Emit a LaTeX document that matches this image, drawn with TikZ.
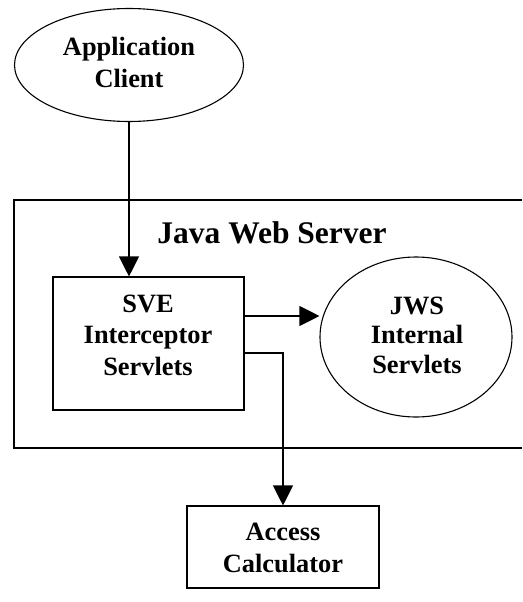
\documentclass[tikz,border=0pt]{standalone}
\usepackage{fontspec}
\setmainfont{Liberation Serif}
\usetikzlibrary{arrows.meta,shapes.geometric}
\tikzset{
  shapeline/.style={draw=black, line width=1.1pt},
  boxnode/.style={shapeline, rectangle, inner sep=0pt},
  ovalnode/.style={shapeline, ellipse, inner sep=0pt},
  lbl/.style={align=center, anchor=base, inner sep=0pt,
    font=\fontsize{26.4pt}{31.5pt}\selectfont\bfseries},
  title/.style={anchor=base, inner sep=0pt,
    font=\fontsize{31.5pt}{36pt}\selectfont\bfseries},
  arr/.style={draw=black, line width=1.1pt, -{Triangle[length=20pt,width=20pt]}},
  conn/.style={draw=black, line width=1.1pt}
}
\begin{document}
\begin{tikzpicture}[x=1pt,y=-1pt]
\useasboundingbox (0,0) rectangle (522,602);
% Application Client
\node[ovalnode, minimum width=229pt, minimum height=113pt] (app) at (129,65) {};
\node[lbl, font=\fontsize{26.4pt}{32pt}\selectfont\bfseries] (applbl) at (129,87) {Application\\Client};
% Java Web Server frame (open on the right)
\coordinate (srvtr) at (522,200);
\coordinate (srvtl) at (14,200);
\coordinate (srvbl) at (14,448);
\coordinate (srvbr) at (522,448);
\draw[conn] (srvtr) -- (srvtl) -- (srvbl) -- (srvbr);
\node[title] (srvlbl) at (272,243) {Java Web Server};
% SVE Interceptor Servlets
\node[boxnode, minimum width=191pt, minimum height=133pt] (sve) at (148.5,343.5) {};
\node[lbl] (svelbl) at (148,375) {SVE\\Interceptor\\Servlets};
% JWS Internal Servlets
\node[ovalnode, minimum width=192pt, minimum height=160pt] (jws) at (416,337) {};
\node[lbl, font=\fontsize{26.4pt}{29.5pt}\selectfont\bfseries] (jwslbl) at (417,373) {JWS\\Internal\\Servlets};
% Access Calculator
\node[boxnode, minimum width=192pt, minimum height=82pt] (acc) at (283,547) {};
\node[lbl, font=\fontsize{26.4pt}{32pt}\selectfont\bfseries] (acclbl) at (283,572) {Access\\Calculator};
% connectors
\draw[arr] (app.south) -- (app.south |- sve.north);
\draw[arr] (sve.north east |- 0,316) -- (jws.west |- 0,316);
\draw[arr] (sve.north east |- 0,353) -| (acc.north);
\end{tikzpicture}
\end{document}
